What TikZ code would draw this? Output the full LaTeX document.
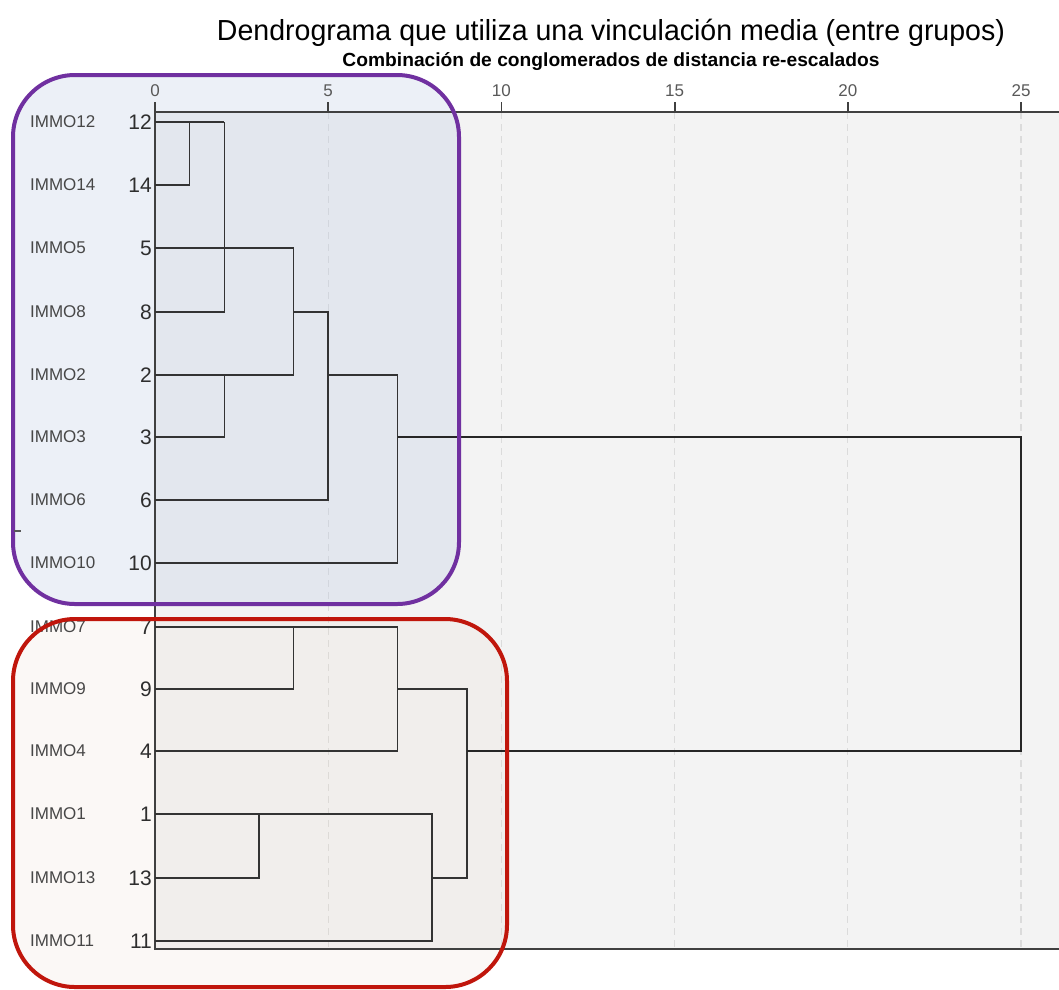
\documentclass[tikz,border=0pt]{standalone}
\usepackage{fontspec}
\setmainfont{Liberation Sans}
\usetikzlibrary{calc}
\definecolor{grpA}{RGB}{112,48,160}
\definecolor{grpB}{RGB}{192,22,12}
\definecolor{grpAfill}{RGB}{187,203,227}
\definecolor{grpBfill}{RGB}{235,215,200}
\definecolor{plotbg}{RGB}{243,243,243}
\begin{document}
\begin{tikzpicture}[x=1pt,y=-1pt,
  link/.style={draw=black!80, line width=1.6pt},
  toplink/.style={draw=black!85, line width=2pt},
  gridline/.style={draw=black!14, line width=1.2pt, dash pattern=on 7pt off 5pt},
  axisline/.style={draw=black!75, line width=1.8pt},
  leafname/.style={anchor=west, text=black!72, font=\fontsize{17}{20}\selectfont, inner sep=0pt},
  leafnum/.style={anchor=east, text=black!82, font=\fontsize{21}{24}\selectfont, inner sep=0pt},
  ticklab/.style={anchor=base, text=black!65, font=\fontsize{17}{20}\selectfont, inner sep=0pt},
  groupbox/.style={line width=4pt, rounded corners=62pt},
]
\useasboundingbox (0,0) rectangle (1059,989);
\fill[white] (0,0) rectangle (1059,989);
\fill[plotbg] (155,112) rectangle (1059,949);

% titles
\node[anchor=base, font=\fontsize{29}{32}\selectfont] (title) at (611,40)
  {\resizebox{788pt}{\height}{Dendrograma que utiliza una vinculación media (entre grupos)}};
\node[anchor=base, font=\fontsize{19}{22}\selectfont\bfseries] (subtitle) at (611,66)
  {\resizebox{537pt}{\height}{Combinación de conglomerados de distancia re-escalados}};

% merge heights on the distance scale (x positions)
\coordinate (h0) at (155,112);
\coordinate (h1) at (189.6,112);
\coordinate (h2) at (224.3,112);
\coordinate (h3) at (258.9,112);
\coordinate (h4) at (293.6,112);
\coordinate (h5) at (328.2,112);
\coordinate (h7) at (397.5,112);
\coordinate (h8) at (432.1,112);
\coordinate (h9) at (466.8,112);
\coordinate (h10) at (501.4,112);
\coordinate (h15) at (674.6,112);
\coordinate (h20) at (847.8,112);
\coordinate (h25) at (1021,112);
\coordinate (hend) at (1059,112);

% grid lines
\foreach \t in {5,10,15,20,25}
  \draw[gridline] (h\t) -- (h\t |- 0,949);

% group boxes (fill)
\fill[grpAfill, fill opacity=0.28, rounded corners=62pt] (13,75) rectangle (459,604);
\fill[grpBfill, fill opacity=0.16, rounded corners=62pt] (13,619) rectangle (507,987);

% axes
\draw[axisline] (h0) -- (hend);
\draw[axisline] (h0) -- (155,949) coordinate (corner) -- (1059,949);
\foreach \t in {0,5,10,15,20,25} {
  \draw[axisline] (h\t) -- ++(0,-10);
  \node[ticklab] (lab\t) at ($(h\t)+(0,-16)$) {\t};
}

% leaves
\foreach \id/\y in {12/122,14/185,5/248,8/312,2/375,3/437,6/500,10/563,7/627,9/689,4/751,1/814,13/878,11/941} {
  \coordinate (l\id) at (155,\y);
  \node[leafnum] (n\id) at (152,\y) {\id};
  \node[leafname] (name\id) at (30,\y) {IMMO\id};
}

% first group
\draw[link] (l14) -| (l12 -| h1);
\draw[link] (l12) -- (l12 -| h2);
\draw[link] (l8) -| (l12 -| h2);
\draw[link] (l5) -- (l5 -| h4);
\draw[link] (l2) -| (l5 -| h4);
\draw[link] (l3) -| (l2 -| h2);
\draw[link] (l6) -| (l8 -| h5) -- (l8 -| h4);
\draw[link] (l10) -| (l2 -| h7) -- (l2 -| h5);

% second group
\draw[link] (l9) -| (l7 -| h4);
\draw[link] (l4) -| (l7 -| h7) -- (l7);
\draw[link] (l13) -| (l1 -| h3);
\draw[link] (l11) -| (l1 -| h8) -- (l1);
\draw[link] (l9 -| h7) -| (l13 -| h9) -- (l13 -| h8);

% final merge
\draw[toplink] (l3 -| h7) -| (l4 -| h25) -- (l4 -| h9);

% group box outlines
\draw[groupbox, grpA] (13,75) rectangle (459,604);
\draw[groupbox, grpB] (13,619) rectangle (507,987);
\draw[black!65, line width=1.2pt] (14,531) coordinate (m1) -- (21,531) coordinate (m2);
\end{tikzpicture}
\end{document}
